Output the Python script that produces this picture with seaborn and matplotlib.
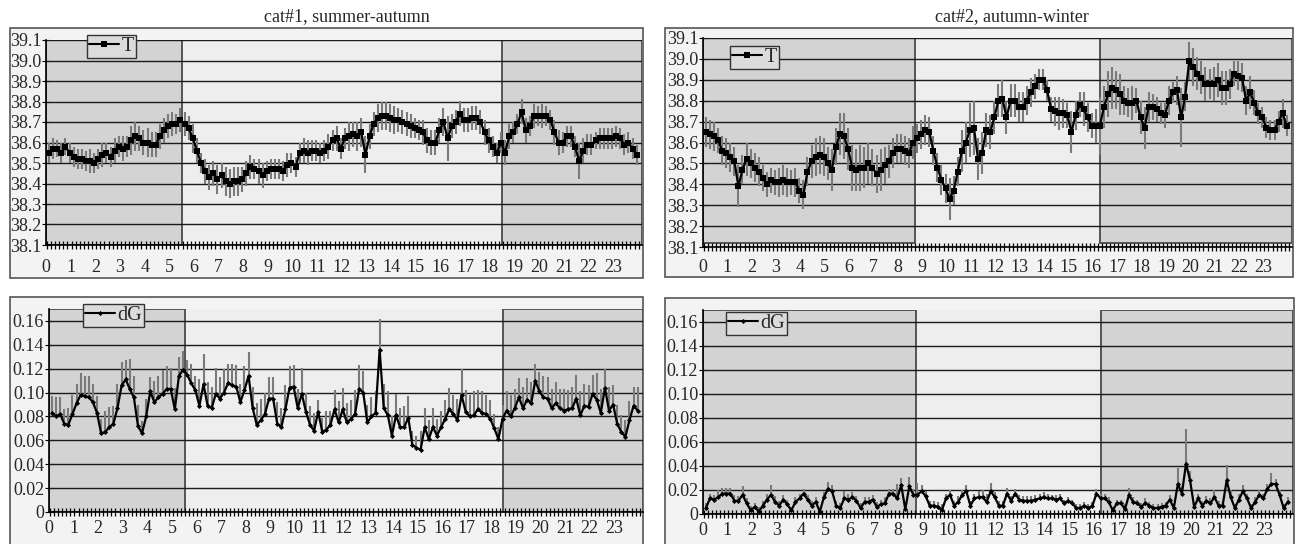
import numpy as np
import pandas as pd
import seaborn as sns
from matplotlib import pyplot as plt
from matplotlib.patches import Rectangle
from matplotlib.lines import Line2D

# 10-minute means over the day, 6 values per hour
t_cat1 = [
    38.55, 38.57, 38.57, 38.55, 38.58, 38.55,
    38.53, 38.52, 38.52, 38.51, 38.51, 38.50,
    38.52, 38.54, 38.55, 38.53, 38.56, 38.58,
    38.57, 38.58, 38.61, 38.63, 38.62, 38.60,
    38.60, 38.59, 38.59, 38.63, 38.66, 38.68,
    38.69, 38.69, 38.71, 38.69, 38.67, 38.62,
    38.56, 38.50, 38.46, 38.43, 38.45, 38.42,
    38.44, 38.41, 38.40, 38.41, 38.41, 38.42,
    38.45, 38.48, 38.47, 38.46, 38.44, 38.46,
    38.47, 38.47, 38.47, 38.46, 38.49, 38.50,
    38.48, 38.55, 38.56, 38.55, 38.56, 38.56,
    38.55, 38.56, 38.58, 38.61, 38.62, 38.57,
    38.62, 38.63, 38.64, 38.63, 38.65, 38.54,
    38.63, 38.69, 38.72, 38.73, 38.73, 38.72,
    38.71, 38.71, 38.70, 38.69, 38.68, 38.67,
    38.66, 38.65, 38.61, 38.60, 38.60, 38.66,
    38.70, 38.62, 38.68, 38.70, 38.74, 38.71,
    38.71, 38.72, 38.72, 38.70, 38.65, 38.61,
    38.58, 38.55, 38.60, 38.55, 38.63, 38.65,
    38.69, 38.75, 38.66, 38.68, 38.73, 38.73,
    38.73, 38.73, 38.71, 38.65, 38.60, 38.60,
    38.63, 38.63, 38.58, 38.51, 38.56, 38.59,
    38.59, 38.61, 38.62, 38.62, 38.62, 38.62,
    38.63, 38.62, 38.59, 38.60, 38.57, 38.54,
]
t_cat1_err = [
    .05, .05, .04, .05, .04, .05,
    .05, .05, .05, .05, .06, .05,
    .05, .06, .05, .05, .06, .05,
    .06, .05, .07, .07, .06, .06,
    .07, .06, .06, .06, .06, .06,
    .06, .05, .06, .06, .06, .07,
    .06, .05, .06, .06, .06, .07,
    .06, .07, .07, .07, .07, .06,
    .06, .06, .05, .06, .06, .05,
    .05, .05, .05, .05, .06, .05,
    .05, .05, .06, .06, .05, .05,
    .05, .05, .06, .05, .06, .05,
    .05, .07, .06, .07, .07, .09,
    .06, .06, .07, .07, .07, .07,
    .07, .06, .06, .06, .06, .05,
    .05, .06, .06, .06, .06, .06,
    .07, .11, .06, .06, .06, .06,
    .06, .06, .06, .06, .06, .06,
    .05, .05, .05, .06, .06, .05,
    .05, .06, .06, .05, .06, .05,
    .06, .05, .05, .06, .06, .05,
    .05, .05, .05, .09, .06, .05,
    .05, .04, .05, .05, .05, .05,
    .05, .05, .05, .05, .05, .05,
]
t_cat2 = [
    38.65, 38.64, 38.63, 38.61, 38.56, 38.55,
    38.53, 38.51, 38.39, 38.47, 38.52, 38.50,
    38.48, 38.46, 38.43, 38.40, 38.42, 38.41,
    38.41, 38.42, 38.41, 38.41, 38.41, 38.37,
    38.35, 38.46, 38.51, 38.53, 38.54, 38.53,
    38.50, 38.47, 38.58, 38.64, 38.63, 38.57,
    38.48, 38.47, 38.48, 38.48, 38.50, 38.48,
    38.45, 38.47, 38.49, 38.51, 38.55, 38.57,
    38.57, 38.56, 38.55, 38.60, 38.62, 38.64,
    38.66, 38.65, 38.56, 38.48, 38.42, 38.38,
    38.33, 38.37, 38.46, 38.56, 38.60, 38.66,
    38.67, 38.52, 38.55, 38.66, 38.65, 38.72,
    38.80, 38.81, 38.72, 38.80, 38.80, 38.77,
    38.77, 38.80, 38.84, 38.87, 38.90, 38.90,
    38.85, 38.76, 38.75, 38.74, 38.74, 38.73,
    38.65, 38.73, 38.78, 38.76, 38.72, 38.68,
    38.68, 38.68, 38.77, 38.83, 38.86, 38.85,
    38.83, 38.80, 38.79, 38.79, 38.80, 38.72,
    38.67, 38.77, 38.77, 38.76, 38.74, 38.73,
    38.80, 38.84, 38.85, 38.72, 38.82, 38.99,
    38.96, 38.93, 38.91, 38.88, 38.88, 38.88,
    38.90, 38.86, 38.86, 38.88, 38.93, 38.92,
    38.91, 38.80, 38.84, 38.79, 38.74, 38.72,
    38.67, 38.66, 38.66, 38.70, 38.74, 38.68,
]
t_cat2_err = [
    .07, .07, .07, .06, .07, .07,
    .07, .07, .10, .07, .08, .07,
    .07, .07, .06, .06, .06, .06,
    .07, .07, .07, .06, .07, .06,
    .07, .07, .08, .09, .09, .09,
    .08, .10, .09, .10, .11, .10,
    .11, .10, .11, .10, .10, .09,
    .09, .10, .09, .08, .07, .07,
    .07, .07, .07, .08, .07, .07,
    .07, .07, .07, .07, .07, .07,
    .10, .07, .07, .10, .10, .13,
    .13, .10, .10, .08, .08, .08,
    .08, .09, .08, .08, .08, .07,
    .07, .07, .07, .06, .05, .05,
    .05, .06, .07, .08, .07, .06,
    .10, .07, .06, .08, .07, .06,
    .08, .14, .10, .11, .10, .09,
    .10, .07, .07, .08, .06, .08,
    .10, .07, .06, .06, .05, .06,
    .07, .05, .07, .14, .07, .09,
    .09, .08, .08, .08, .07, .08,
    .08, .08, .08, .07, .06, .07,
    .07, .07, .08, .06, .05, .05,
    .05, .05, .05, .05, .07, .05,
]
dg_cat1 = [
    0.083, 0.080, 0.082, 0.074, 0.073, 0.082,
    0.091, 0.098, 0.097, 0.096, 0.092, 0.083,
    0.066, 0.067, 0.071, 0.074, 0.087, 0.106,
    0.111, 0.103, 0.096, 0.072, 0.066, 0.080,
    0.101, 0.092, 0.096, 0.099, 0.103, 0.103,
    0.086, 0.114, 0.119, 0.115, 0.108, 0.102,
    0.089, 0.107, 0.089, 0.087, 0.099, 0.095,
    0.100, 0.108, 0.106, 0.105, 0.092, 0.102,
    0.114, 0.087, 0.073, 0.077, 0.082, 0.095,
    0.095, 0.074, 0.071, 0.086, 0.104, 0.105,
    0.087, 0.099, 0.084, 0.073, 0.068, 0.084,
    0.067, 0.069, 0.073, 0.086, 0.075, 0.086,
    0.075, 0.078, 0.082, 0.103, 0.100, 0.075,
    0.080, 0.083, 0.136, 0.087, 0.081, 0.064,
    0.081, 0.071, 0.071, 0.079, 0.056, 0.054,
    0.052, 0.071, 0.061, 0.071, 0.064, 0.071,
    0.078, 0.086, 0.082, 0.077, 0.098, 0.084,
    0.080, 0.081, 0.086, 0.083, 0.082, 0.078,
    0.070, 0.061, 0.078, 0.085, 0.080, 0.087,
    0.096, 0.087, 0.094, 0.091, 0.110, 0.101,
    0.096, 0.095, 0.087, 0.091, 0.087, 0.085,
    0.086, 0.087, 0.095, 0.081, 0.089, 0.088,
    0.099, 0.094, 0.083, 0.104, 0.085, 0.090,
    0.074, 0.067, 0.063, 0.077, 0.089, 0.085,
]
dg_cat1_err = [
    .014, .016, .014, .012, .014, .016,
    .016, .018, .017, .018, .015, .014,
    .012, .018, .017, .015, .020, .020,
    .016, .025, .018, .018, .010, .015,
    .012, .018, .018, .020, .019, .018,
    .018, .016, .016, .012, .016, .012,
    .022, .025, .020, .018, .022, .018,
    .020, .016, .018, .018, .015, .020,
    .020, .018, .018, .018, .018, .018,
    .018, .018, .016, .020, .018, .018,
    .016, .022, .016, .016, .015, .010,
    .012, .016, .012, .016, .018, .018,
    .016, .016, .020, .020, .018, .015,
    .016, .018, .026, .020, .020, .016,
    .018, .016, .018, .018, .012, .010,
    .016, .016, .016, .016, .014, .014,
    .016, .018, .016, .018, .022, .018,
    .018, .020, .016, .018, .016, .016,
    .012, .010, .012, .016, .018, .016,
    .016, .018, .018, .018, .014, .016,
    .018, .018, .016, .018, .016, .018,
    .016, .018, .020, .020, .018, .018,
    .016, .022, .020, .016, .020, .016,
    .016, .014, .014, .016, .016, .020,
]
dg_cat2 = [
    0.005, 0.013, 0.012, 0.014, 0.017, 0.017,
    0.017, 0.011, 0.011, 0.016, 0.009, 0.003,
    0.006, 0.002, 0.007, 0.012, 0.016, 0.010,
    0.007, 0.012, 0.008, 0.003, 0.010, 0.013,
    0.017, 0.012, 0.007, 0.010, 0.002, 0.014,
    0.021, 0.019, 0.007, 0.005, 0.013, 0.012,
    0.014, 0.011, 0.005, 0.010, 0.010, 0.012,
    0.006, 0.008, 0.009, 0.017, 0.017, 0.013,
    0.024, 0.004, 0.023, 0.016, 0.016, 0.019,
    0.015, 0.007, 0.007, 0.006, 0.003, 0.013,
    0.016, 0.007, 0.010, 0.016, 0.019, 0.007,
    0.013, 0.014, 0.014, 0.010, 0.019, 0.014,
    0.007, 0.007, 0.017, 0.011, 0.017, 0.012,
    0.011, 0.011, 0.011, 0.012, 0.013, 0.014,
    0.013, 0.013, 0.012, 0.013, 0.009, 0.011,
    0.009, 0.005, 0.005, 0.007, 0.005, 0.007,
    0.017, 0.013, 0.013, 0.010, 0.003, 0.009,
    0.009, 0.004, 0.016, 0.010, 0.009, 0.006,
    0.009, 0.007, 0.005, 0.005, 0.006, 0.007,
    0.012, 0.005, 0.025, 0.017, 0.042, 0.028,
    0.006, 0.013, 0.007, 0.011, 0.009, 0.014,
    0.007, 0.007, 0.028, 0.014, 0.005, 0.012,
    0.019, 0.013, 0.005, 0.010, 0.016, 0.013,
    0.021, 0.025, 0.025, 0.016, 0.005, 0.010,
]
dg_cat2_err = [
    .004, .004, .004, .006, .005, .005,
    .005, .005, .004, .007, .004, .004,
    .003, .004, .004, .005, .008, .005,
    .004, .004, .004, .003, .004, .004,
    .004, .004, .004, .004, .003, .004,
    .006, .005, .004, .004, .006, .005,
    .004, .004, .004, .004, .004, .004,
    .004, .004, .005, .004, .004, .012,
    .006, .006, .008, .005, .010, .005,
    .004, .004, .004, .004, .005, .004,
    .004, .004, .005, .004, .005, .004,
    .004, .005, .006, .007, .007, .004,
    .004, .004, .005, .004, .004, .004,
    .004, .004, .004, .004, .004, .004,
    .004, .003, .004, .004, .003, .003,
    .003, .003, .003, .003, .003, .003,
    .004, .004, .004, .004, .003, .003,
    .003, .004, .006, .004, .003, .003,
    .004, .003, .003, .003, .003, .003,
    .004, .003, .013, .006, .029, .008,
    .004, .004, .004, .004, .004, .006,
    .004, .004, .013, .006, .003, .005,
    .005, .004, .003, .004, .004, .004,
    .004, .009, .004, .004, .003, .004,
]
hours = [str(h) for h in range(24)]
titles = ["cat#1, summer-autumn", "cat#2, autumn-winter"]
# light (day) part of each day: sunrise, sunset in hours
daylight = [(5.40, 18.37), (8.60, 16.17)]

sns.set_style("white")
plt.rcParams['font.family'] = ['Liberation Serif', 'DejaVu Serif']

W, H = 1297, 544
fig = plt.figure(figsize=(W / 100, H / 100), dpi=100)
XMIN, XMAX = -0.12, 24.05


def fig_rect(x0, y0, x1, y1):
    # pixel box (top-left origin) -> figure fraction
    return [x0 / W, 1 - y1 / H, (x1 - x0) / W, (y1 - y0) / H]


# chart-area frames
for box in [(10, 28, 643, 278), (665, 28, 1293, 277), (10, 297, 643, 560), (665, 298, 1294, 560)]:
    l, b, w, h = fig_rect(*box)
    fig.add_artist(Rectangle((l, b), w, h, transform=fig.transFigure,
                             facecolor='#f3f3f3', edgecolor='#555555', lw=1.2, zorder=-5))

panels = [
    dict(box=(46, 40, 642, 245), vals=t_cat1, err=t_cat1_err, kind='T', cat=0,
         ylim=(38.1, 39.1), shade_lo=38.1, leg=(0.069, 1.025), pad=7.5),
    dict(box=(703, 38, 1292, 247), vals=t_cat2, err=t_cat2_err, kind='T', cat=1,
         ylim=(38.1, 39.1), shade_lo=38.12, leg=(0.046, 0.962), pad=6),
    dict(box=(49, 309, 643, 512), vals=dg_cat1, err=dg_cat1_err, kind='dG', cat=0,
         ylim=(0, 0.17), shade_lo=0, leg=(0.057, 1.025), pad=3),
    dict(box=(703, 310, 1293, 514), vals=dg_cat2, err=dg_cat2_err, kind='dG', cat=1,
         ylim=(0, 0.17), shade_lo=0, leg=(0.039, 0.99), pad=3),
]

for p in panels:
    ax = fig.add_axes(fig_rect(*p['box']))
    ax.set_facecolor('#eeeeee')
    x = np.arange(len(p['vals'])) / 6
    vals = np.array(p['vals'])
    err = np.array(p['err'])
    y0, y1 = p['ylim']
    ax.set_xlim(XMIN, XMAX)
    ax.set_ylim(y0, y1)

    # night shading
    rise, sset = daylight[p['cat']]
    for a, b in [(XMIN, rise), (sset, XMAX)]:
        ax.add_patch(Rectangle((a, p['shade_lo']), b - a, y1 - p['shade_lo'],
                               facecolor='#d3d3d3', edgecolor='#4a4a4a', lw=1.3, zorder=0.5))

    if p['kind'] == 'T':
        yt = np.round(np.arange(38.1, 39.11, 0.1), 1)
        ylab = [f"{v:.1f}" for v in yt]
        lo, hi = vals - err, vals + err
        marker, ms = 's', 3.8
    else:
        yt = np.round(np.arange(0, 0.161, 0.02), 2)
        ylab = ['0'] + [f"{v:.2f}" for v in yt[1:]]
        lo, hi = vals, vals + err
        marker, ms = 'D', 2.6
    for v in yt:
        ax.axhline(v, color='#1a1a1a', lw=1.0, zorder=1)

    ax.vlines(x, lo, hi, color='#7a7a7a', lw=1.5, zorder=2)
    df = pd.DataFrame({'x': x, 'y': vals})
    sns.lineplot(data=df, x='x', y='y', ax=ax, color='black', lw=1.6,
                 marker=marker, markersize=ms, markeredgewidth=0, zorder=3)

    ax.set_yticks(yt)
    ax.set_yticklabels(ylab)
    ax.set_xticks([h - 0.12 for h in range(24)])
    ax.set_xticklabels(hours)
    ax.set_xticks(np.arange(0, 145) / 6 - 1 / 12, minor=True)
    ax.tick_params(axis='both', which='both', direction='inout', color='black',
                   width=0.8, labelsize=13, bottom=True, left=True)
    ax.tick_params(axis='y', which='major', length=6, pad=0.5)
    ax.tick_params(axis='x', which='major', length=0, pad=p['pad'] + 2.5)
    ax.tick_params(axis='x', which='minor', length=6, width=0.9)
    ax.set_xlabel('')
    ax.set_ylabel('')
    for s in ['top', 'right']:
        ax.spines[s].set_visible(False)
    for s in ['left', 'bottom']:
        ax.spines[s].set_color('black')
        ax.spines[s].set_linewidth(1.2)
        ax.spines[s].set_zorder(4)

    handle = Line2D([], [], color='black', lw=1.5, marker=marker, markersize=ms,
                    markeredgewidth=0)
    leg = ax.legend([handle], [p['kind']], loc='upper left', bbox_to_anchor=p['leg'],
                    borderaxespad=0, frameon=True, fancybox=False, edgecolor='#333333',
                    facecolor='#dcdcdc', framealpha=1, handlelength=1.5,
                    handletextpad=0.1, borderpad=0.1, prop={'size': 14.5})
    leg.get_frame().set_linewidth(1.0)
    leg.set_zorder(6)

fig.text(347 / W, 1 - 17 / H, titles[0], ha='center', va='center', fontsize=13)
fig.text(1012 / W, 1 - 17 / H, titles[1], ha='center', va='center', fontsize=13)

fig.savefig('out.png', dpi=100)
